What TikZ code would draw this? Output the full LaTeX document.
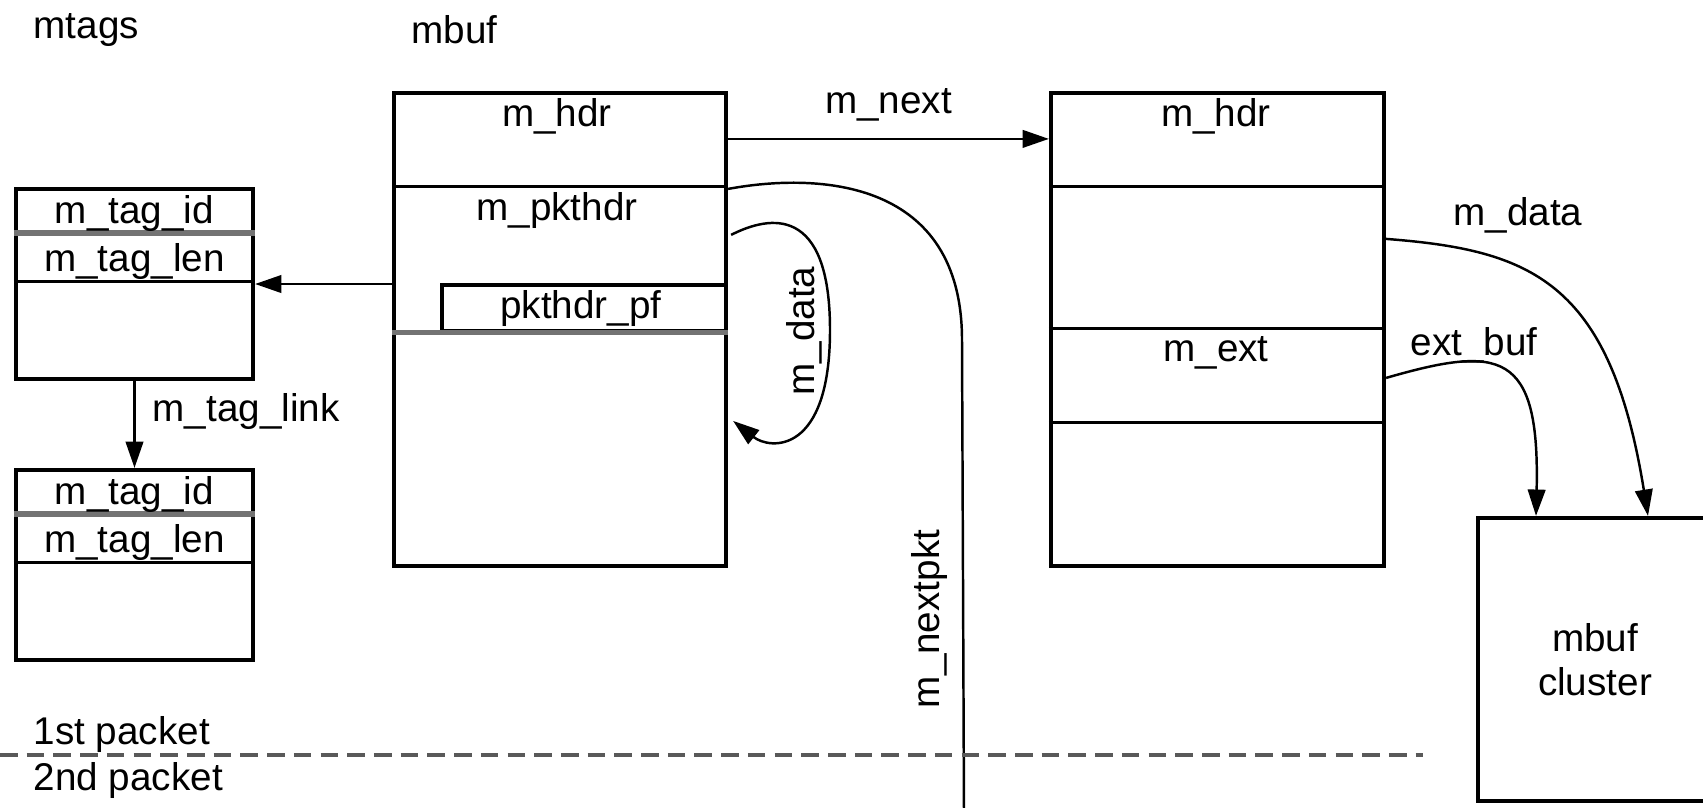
\documentclass[tikz,border=0pt]{standalone}
\usepackage{fontspec}
\setmainfont{Liberation Sans}
\usetikzlibrary{positioning}
\usetikzlibrary{arrows.meta}
\tikzset{
    mybox/.style = {rectangle, draw=black, line width=1.2pt, inner sep=0pt, align=center, font=\fontsize{11}{12.5}\selectfont},
    mylbl/.style = {inner sep=0pt, font=\fontsize{11}{13}\selectfont, text=black},
    myrow/.style = {-, line width=0.9pt, black},
    myrowg/.style = {-, line width=1.6pt, black!55}, % heavy row line
    edgen/.style = {line width=0.7pt, black, -{Triangle[length=7.5pt,width=5pt]}},
    edged/.style = {-, line width=0.9pt, black!65, dash pattern=on 5pt off 2.6pt}
}
\begin{document}
\begin{tikzpicture}[scale=1.00,transform shape]
\clip (0,0) rectangle (17.03,-8.07);
%
\node[mylbl, anchor=west] at (0.33,-0.30) (tmtags) {mtags};
\node[mylbl, anchor=west] at (4.11,-0.30) (tmbuf) {mbuf};
%
\node[mybox, minimum width=2.37cm, minimum height=1.90cm] at (1.345,-2.84) (tag1) {};
\node[mybox, minimum width=2.37cm, minimum height=1.90cm] at (1.345,-5.65) (tag2) {};
\node[mybox, minimum width=3.32cm, minimum height=4.73cm] at (5.60,-3.295) (buf1) {};
\node[mybox, minimum width=3.33cm, minimum height=4.73cm] at (12.175,-3.295) (buf2) {};
\node[mybox, minimum width=2.34cm, minimum height=2.83cm] at (15.95,-6.595) (clust) {mbuf\\cluster};
\node[mybox, minimum width=2.84cm, minimum height=0.46cm, line width=0.9pt] at (5.84,-3.08) (pf) {};
%
\draw[myrowg] ([yshift=-0.46cm]tag1.north west) -- ([yshift=-0.46cm]tag1.north east);
\draw[myrow] ([yshift=-0.95cm]tag1.north west) -- ([yshift=-0.95cm]tag1.north east);
\draw[myrowg] ([yshift=-0.46cm]tag2.north west) -- ([yshift=-0.46cm]tag2.north east);
\draw[myrow] ([yshift=-0.95cm]tag2.north west) -- ([yshift=-0.95cm]tag2.north east);
\draw[myrow] ([yshift=-0.96cm]buf1.north west) -- ([yshift=-0.96cm]buf1.north east);
\draw[myrowg] (buf1.west |- pf.south) -- (pf.south east);
\draw[myrow] ([yshift=-0.96cm]buf2.north west) -- ([yshift=-0.96cm]buf2.north east);
\draw[myrow] ([yshift=-2.38cm]buf2.north west) -- ([yshift=-2.38cm]buf2.north east);
\draw[myrow] ([yshift=-3.32cm]buf2.north west) -- ([yshift=-3.32cm]buf2.north east);
%
\node[mylbl] at (1.345,-2.13) (id1) {m\_tag\_id};
\node[mylbl] at (1.345,-2.61) (len1) {m\_tag\_len};
\node[mylbl] at (1.345,-4.94) (id2) {m\_tag\_id};
\node[mylbl] at (1.345,-5.42) (len2) {m\_tag\_len};
\node[mylbl] at (5.57,-1.16) (hdr1) {m\_hdr};
\node[mylbl] at (5.57,-2.10) (pkt1) {m\_pkthdr};
\node[mylbl] at (5.81,-3.08) (pft) {pkthdr\_pf};
\node[mylbl] at (12.16,-1.16) (hdr2) {m\_hdr};
\node[mylbl] at (12.16,-3.53) (ext2) {m\_ext};
%
\draw[edgen] ([yshift=-0.48cm]buf1.north east) -- node[mylbl, above=0.16cm] (tnext) {m\_next} ([yshift=-0.48cm]buf2.north west);
\draw[edgen] (tag1.east -| buf1.west) -- (tag1.east);
\draw[edgen] (tag1.south) -- node[mylbl, right=0.17cm, pos=0.35] (tlink) {m\_tag\_link} (tag2.north);
\draw[edgen] ([shift={(0.03,-1.44)}]buf1.north east) .. controls (7.70,-2.15) and (8.30,-2.05) .. (8.30,-3.30)
    .. controls (8.30,-4.55) and (7.70,-4.50) .. ([shift={(0.05,-3.30)}]buf1.north east);
\node[mylbl, rotate=90] at (8.04,-3.31) (tdata1) {m\_data};
%
\coordinate (nextpkt) at (9.64,-8.15);
\draw[line width=0.7pt] ([yshift=-0.98cm]buf1.north east) .. controls (8.20,-1.72) and (9.62,-1.80) .. (9.62,-3.40) -- (nextpkt);
\node[mylbl, rotate=90] at (9.29,-6.19) (tnextpkt) {m\_nextpkt};
%
\draw[edgen] ([yshift=-1.48cm]buf2.north east) .. controls (15.30,-2.50) and (16.10,-2.80) .. ([xshift=0.53cm]clust.north);
\node[mylbl] at (15.18,-2.15) (tdata2) {m\_data};
\draw[edgen] ([yshift=-2.87cm]buf2.north east) .. controls (15.00,-3.45) and (15.40,-3.50) .. ([xshift=-0.59cm]clust.north);
\node[mylbl] at (14.74,-3.45) (text) {ext\_buf};
%
\coordinate (da) at (0,-7.55);
\coordinate (db) at (14.23,-7.55);
\draw[edged] (da) -- (db);
\node[mylbl, anchor=west] at (0.33,-7.34) (tfirst) {1st packet};
\node[mylbl, anchor=west] at (0.33,-7.80) (tsecond) {2nd packet};
\end{tikzpicture}
\end{document}
